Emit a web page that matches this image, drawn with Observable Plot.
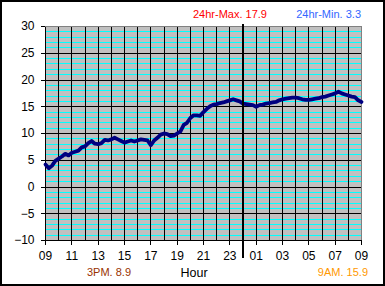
<!DOCTYPE html>
<html>
<head>
<meta charset="utf-8">
<script src="https://cdn.jsdelivr.net/npm/d3@7"></script>
<script src="https://cdn.jsdelivr.net/npm/@observablehq/plot@0.6"></script>
<style>
  html, body { margin: 0; padding: 0; background: #fff; }
  #chart { width: 385px; height: 286px; }
</style>
</head>
<body>
<div id="chart"></div>
<script>
// Temperature readings every 15 minutes from 09:00 to 09:00 next day
const startHour = 9;
const stepMinutes = 15;
const temps = [
  4.2, 3.5, 4.0, 4.9, 5.3, 5.7, 6.2, 5.9, 6.4, 6.6, 6.8, 7.4, 7.6, 8.2, 8.6, 8.1,
  8.0, 8.2, 8.8, 8.7, 8.9, 9.2, 8.9, 8.6, 8.3, 8.5, 8.7, 8.5, 8.7, 8.9, 8.8, 8.7,
  7.8, 8.7, 9.2, 9.8, 10.0, 9.9, 9.5, 9.6, 10.0, 10.4, 11.6, 12.0, 12.9, 13.4, 13.4, 13.3,
  14.0, 14.6, 15.1, 15.4, 15.5, 15.7, 15.8, 16.0, 16.2, 16.4, 16.2, 16.0, 15.6, 15.5, 15.4, 15.3,
  15.0, 15.3, 15.4, 15.6, 15.7, 15.8, 15.9, 16.2, 16.4, 16.5, 16.6, 16.7, 16.7, 16.6, 16.4, 16.3,
  16.3, 16.4, 16.5, 16.6, 16.8, 16.9, 17.1, 17.3, 17.5, 17.8, 17.5, 17.3, 17.1, 16.9, 16.8, 16.2,
  15.9
];
const yTicks = [-10, -5, 0, 5, 10, 15, 20, 25, 30];
const minorY = [-9,-8,-7,-6,-4,-3,-2,-1,1,2,3,4,6,7,8,9,11,12,13,14,16,17,18,19,21,22,23,24,26,27,28,29];
const xTickHours = [0, 2, 4, 6, 8, 10, 12, 14, 16, 18, 20, 22, 24];
const xTickLabels = ["09","11","13","15","17","19","21","23","01","03","05","07","09"];
const hourLines = [0,1,2,3,4,5,6,7,8,9,10,11,12,13,14,15,16,17,18,19,20,21,22,23];
const midnightHour = 15;
const titleMax = "24hr-Max. 17.9";
const titleMin = "24hr-Min. 3.3";
const note3pm = "3PM. 8.9";
const note9am = "9AM. 15.9";
const xLabel = "Hour";

const data = temps.map((t, i) => ({h: i * stepMinutes / 60, t}));

const font = "'Liberation Sans', Arial, sans-serif";
const crisp = {shapeRendering: "crispEdges"};

const plot = Plot.plot({
  width: 385,
  height: 286,
  marginLeft: 45,
  marginRight: 24,
  marginTop: 26,
  marginBottom: 46,
  style: {fontFamily: font, fontSize: "12px", background: "#ffffff", color: "#000"},
  x: {domain: [0, 24]},
  y: {domain: [-10, 30]},
  marks: [
    Plot.frame({fill: "#c0c0c0", stroke: null, ...crisp}),
    Plot.ruleY(minorY, {stroke: "#00ffff", strokeWidth: 1, ...crisp}),
    Plot.ruleY(yTicks.filter(v => v < 30), {stroke: "#000", strokeWidth: 1, ...crisp}),
    Plot.ruleX(hourLines, {stroke: "#000", strokeWidth: 1, ...crisp}),
    Plot.ruleY([30], {stroke: "#808080", strokeWidth: 1, ...crisp}),
    Plot.ruleX([24], {stroke: "#808080", strokeWidth: 1, ...crisp}),
    Plot.line(data, {x: "h", y: "t", stroke: "#000080", strokeWidth: 3.8, strokeLinejoin: "round"}),
    Plot.ruleX([midnightHour], {y1: 30.37, y2: -13.36, stroke: "#000", strokeWidth: 2, clip: false, ...crisp}),
    Plot.axisY({ticks: yTicks, tickSize: 4, tickPadding: 7, label: null, fill: "#000", stroke: "#000", fontSize: 12, ...crisp}),
    Plot.axisX({ticks: xTickHours, tickFormat: h => xTickLabels[xTickHours.indexOf(h)], tickSize: 5, tickPadding: 6, label: null, fill: "#000", stroke: "#000", fontSize: 12, ...crisp})
  ]
});

const svg = d3.select(plot);
svg.append("rect").attr("x", 1).attr("y", 1).attr("width", 383).attr("height", 284)
  .attr("fill", "none").attr("stroke", "#000").attr("stroke-width", 2);
const addText = (x, y, txt, color, anchor, size) =>
  svg.append("text").attr("x", x).attr("y", y).attr("text-anchor", anchor)
    .attr("fill", color).style("font-family", font).style("font-size", size + "px").text(txt);
addText(193, 18, titleMax, "#ff0000", "start", 11);
addText(361, 18, titleMin, "#3366ff", "end", 11);
addText(87, 276, note3pm, "#993300", "start", 11);
addText(194, 277, xLabel, "#000", "middle", 12.5);
addText(368, 276, note9am, "#ff9900", "end", 11);

document.getElementById("chart").appendChild(plot);
</script>
</body>
</html>
